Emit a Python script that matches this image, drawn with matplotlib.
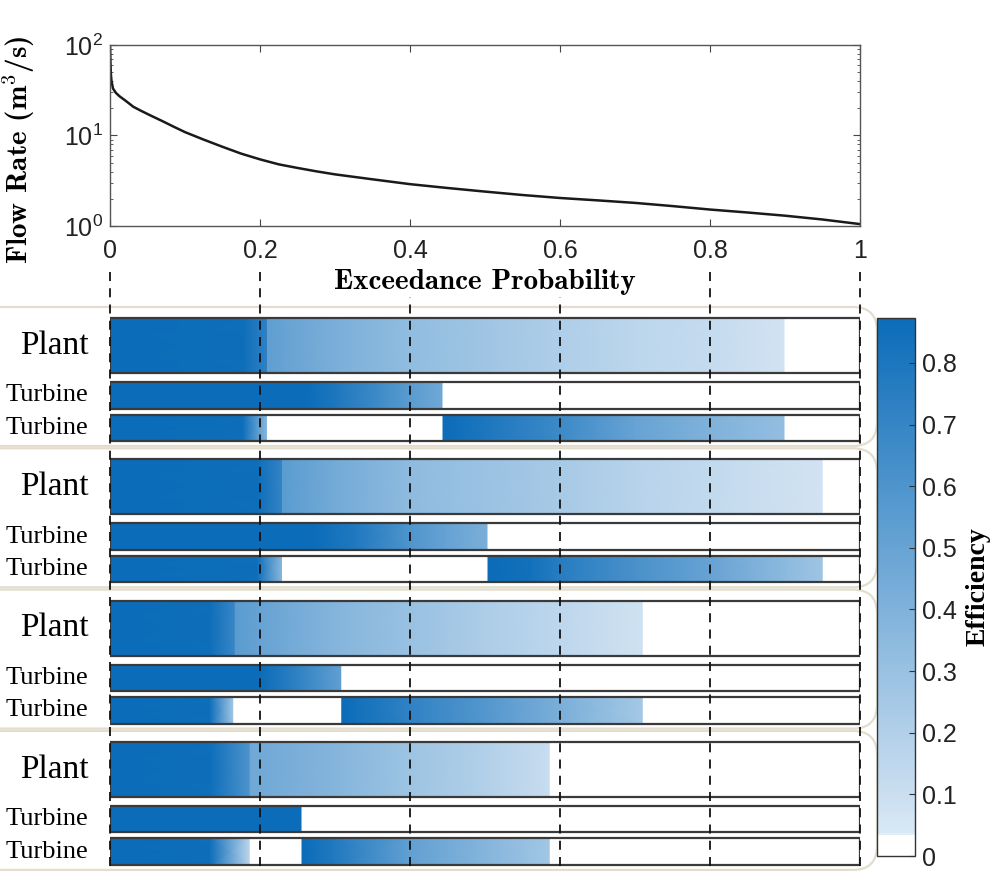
import numpy as np
import matplotlib.pyplot as plt
from matplotlib.colors import LinearSegmentedColormap, Normalize
from matplotlib.patches import Rectangle, FancyBboxPatch
from matplotlib.cm import ScalarMappable

plt.rcParams["font.family"] = ["Liberation Sans", "DejaVu Sans"]
plt.rcParams["mathtext.fontset"] = "cm"
SERIF = "Liberation Serif"
CMB = "cmb10"

# flow duration curve
FLOW_P = [0, 0.0003, 0.0007, 0.0012, 0.002, 0.004, 0.008, 0.013, 0.02, 0.031,
          0.04, 0.053, 0.07, 0.085, 0.1, 0.125, 0.15, 0.175, 0.2, 0.225, 0.25,
          0.275, 0.3, 0.35, 0.4, 0.45, 0.5, 0.55, 0.6, 0.65, 0.7, 0.75, 0.8,
          0.85, 0.9, 0.95, 0.98, 1.0]
FLOW_Q = [100, 80, 60, 47, 40, 33, 29.5, 27, 24.5, 20.8,
          19, 16.8, 14.4, 12.5, 10.9, 9.0, 7.5, 6.3, 5.45, 4.8, 4.38,
          4.02, 3.72, 3.28, 2.9, 2.63, 2.4, 2.2, 2.04, 1.92, 1.8, 1.66, 1.52,
          1.41, 1.3, 1.18, 1.1, 1.05]

XTICKS = [0, 0.2, 0.4, 0.6, 0.8, 1.0]
XTICK_LABELS = ["0", "0.2", "0.4", "0.6", "0.8", "1"]
CB_TICKS = [0, 0.1, 0.2, 0.3, 0.4, 0.5, 0.6, 0.7, 0.8]
CB_LABELS = ["0", "0.1", "0.2", "0.3", "0.4", "0.5", "0.6", "0.7", "0.8"]
EFF_MAX = 0.873

# efficiency along exceedance probability (x, eff) per bar; repeated x = jump
G1_PLANT_X = [0, 0.177, 0.21, 0.21, 0.3, 0.4, 0.5, 0.6, 0.7, 0.8, 0.9, 0.9, 1.0]
G1_PLANT_E = [0.87, 0.86, 0.72, 0.53, 0.42, 0.33, 0.27, 0.21, 0.16, 0.12, 0.07, 0, 0]
G1_T1_X = [0, 0.26, 0.3, 0.35, 0.4, 0.444, 0.444, 1.0]
G1_T1_E = [0.87, 0.87, 0.80, 0.68, 0.55, 0.46, 0, 0]
G1_T2_X = [0, 0.177, 0.21, 0.21, 0.444, 0.444, 0.5, 0.6, 0.7, 0.8, 0.9, 0.9, 1.0]
G1_T2_E = [0.87, 0.86, 0.35, 0, 0, 0.87, 0.80, 0.67, 0.50, 0.40, 0.32, 0, 0]

G2_PLANT_X = [0, 0.196, 0.23, 0.23, 0.3, 0.4, 0.5, 0.6, 0.7, 0.8, 0.9, 0.951, 0.951, 1.0]
G2_PLANT_E = [0.87, 0.86, 0.70, 0.55, 0.45, 0.34, 0.29, 0.24, 0.18, 0.13, 0.09, 0.07, 0, 0]
G2_T1_X = [0, 0.27, 0.33, 0.4, 0.45, 0.504, 0.504, 1.0]
G2_T1_E = [0.87, 0.87, 0.78, 0.60, 0.50, 0.42, 0, 0]
G2_T2_X = [0, 0.196, 0.23, 0.23, 0.504, 0.504, 0.56, 0.6, 0.7, 0.8, 0.9, 0.951, 0.951, 1.0]
G2_T2_E = [0.87, 0.86, 0.35, 0, 0, 0.87, 0.84, 0.76, 0.62, 0.50, 0.35, 0.27, 0, 0]

G3_PLANT_X = [0, 0.133, 0.167, 0.167, 0.2, 0.3, 0.4, 0.5, 0.6, 0.711, 0.711, 1.0]
G3_PLANT_E = [0.87, 0.86, 0.68, 0.55, 0.50, 0.38, 0.30, 0.22, 0.15, 0.08, 0, 0]
G3_T1_X = [0, 0.2, 0.25, 0.309, 0.309, 1.0]
G3_T1_E = [0.87, 0.87, 0.72, 0.52, 0, 0]
G3_T2_X = [0, 0.133, 0.165, 0.165, 0.309, 0.309, 0.4, 0.5, 0.6, 0.711, 0.711, 1.0]
G3_T2_E = [0.87, 0.86, 0.25, 0, 0, 0.87, 0.72, 0.58, 0.42, 0.25, 0, 0]

G4_PLANT_X = [0, 0.133, 0.187, 0.187, 0.3, 0.4, 0.5, 0.587, 0.587, 1.0]
G4_PLANT_E = [0.87, 0.86, 0.60, 0.47, 0.38, 0.28, 0.20, 0.11, 0, 0]
G4_T1_X = [0, 0.256, 0.256, 1.0]
G4_T1_E = [0.87, 0.87, 0, 0]
G4_T2_X = [0, 0.133, 0.187, 0.187, 0.256, 0.256, 0.3, 0.4, 0.5, 0.587, 0.587, 1.0]
G4_T2_E = [0.87, 0.86, 0.15, 0, 0, 0.87, 0.78, 0.52, 0.38, 0.26, 0, 0]

GROUPS = [
    [(G1_PLANT_X, G1_PLANT_E), (G1_T1_X, G1_T1_E), (G1_T2_X, G1_T2_E)],
    [(G2_PLANT_X, G2_PLANT_E), (G2_T1_X, G2_T1_E), (G2_T2_X, G2_T2_E)],
    [(G3_PLANT_X, G3_PLANT_E), (G3_T1_X, G3_T1_E), (G3_T2_X, G3_T2_E)],
    [(G4_PLANT_X, G4_PLANT_E), (G4_T1_X, G4_T1_E), (G4_T2_X, G4_T2_E)],
]
ROW_NAMES = ["Plant", "Turbine", "Turbine"]

# layout, in figure pixels
W, H = 994, 873
GROUP_Y0 = 318
GROUP_STEP = 141.3
ROW_OFFSET = [0, 64, 96.5]
ROW_HEIGHT = [55, 26.5, 26.5]

cmap = LinearSegmentedColormap.from_list(
    "eff", [(0, "#ffffff"), (0.035, "#ffffff"), (0.04, "#dae8f5"), (1, "#0b6cb9")])
norm = Normalize(0, EFF_MAX)


def px_box(x0, y0, x1, y1):
    return [x0 / W, 1 - y1 / H, (x1 - x0) / W, (y1 - y0) / H]


fig = plt.figure(figsize=(W / 100, H / 100), dpi=100)

# ---------------------------------------------------------------------------
# top: flow duration curve
# ---------------------------------------------------------------------------
ax = fig.add_axes(px_box(110, 45, 860, 226), zorder=3)
ax.semilogy(FLOW_P, FLOW_Q, color="#1a1a1a", lw=1.8)
ax.set_xlim(0, 1)
ax.set_ylim(1, 100)
ax.set_xticks(XTICKS)
ax.set_xticklabels(XTICK_LABELS)
ax.tick_params(which="both", direction="in", top=True, right=True,
               labelsize=18, pad=5, color="#444444", labelcolor="#222222")
ax.tick_params(axis="x", pad=9)
ax.tick_params(which="major", length=5)
ax.tick_params(which="minor", length=2.5)
for s in ax.spines.values():
    s.set_color("#555555")
    s.set_linewidth(1.0)
ax.set_xlabel("Exceedance Probability", fontfamily=CMB, fontsize=21, labelpad=5,
              bbox=dict(facecolor="white", edgecolor="none", pad=1))
ax.set_ylabel("Flow Rate (m$^3$/s)", fontfamily=CMB, fontsize=21)
ax.yaxis.set_label_coords(-0.098, 0.42)

# ---------------------------------------------------------------------------
# rounded group frames (pixel coords overlay)
# ---------------------------------------------------------------------------
bg = fig.add_axes([0, 0, 1, 1], zorder=0)
bg.set_xlim(0, W)
bg.set_ylim(H, 0)
bg.axis("off")
for g in range(len(GROUPS)):
    top = GROUP_Y0 + g * GROUP_STEP - 11
    bg.add_patch(FancyBboxPatch((-30, top), 907, 139,
                                boxstyle="round,pad=0,rounding_size=24",
                                fill=False, edgecolor="#e2ddcc", lw=1.6))

# ---------------------------------------------------------------------------
# efficiency bars
# ---------------------------------------------------------------------------
axb = fig.add_axes(px_box(110, 245, 860, 873), zorder=1)
axb.set_xlim(0, 1)
axb.set_ylim(873, 245)
axb.axis("off")

for g, bars in enumerate(GROUPS):
    for r, (xs, es) in enumerate(bars):
        y0 = GROUP_Y0 + g * GROUP_STEP + ROW_OFFSET[r]
        h = ROW_HEIGHT[r]
        xs = np.asarray(xs, dtype=float)
        es = np.asarray(es, dtype=float)
        X = np.vstack([xs, xs])
        Y = np.vstack([np.full_like(xs, y0), np.full_like(xs, y0 + h)])
        C = np.vstack([es, es])
        axb.pcolormesh(X, Y, C, cmap=cmap, norm=norm, shading="gouraud", zorder=1)
        axb.add_patch(Rectangle((0, y0), 1, h, fill=False, edgecolor="#3a3a3a",
                                lw=1.6, zorder=3))
        axb.text(-0.029, y0 + h / 2, ROW_NAMES[r], ha="right", va="center",
                 fontfamily=SERIF, fontsize=24 if r == 0 else 19, clip_on=False)

for xv in XTICKS:
    axb.plot([xv, xv], [272, 873], color="#111111", lw=1.3,
             dashes=(5, 4), zorder=4, clip_on=False)

# ---------------------------------------------------------------------------
# colorbar
# ---------------------------------------------------------------------------
cax = fig.add_axes(px_box(877, 318, 915, 856))
sm = ScalarMappable(norm=norm, cmap=cmap)
cb = fig.colorbar(sm, cax=cax)
cb.set_ticks(CB_TICKS)
cb.set_ticklabels(CB_LABELS)
cax.tick_params(direction="in", length=4, labelsize=18, color="#333333",
                labelcolor="#222222", pad=5)
cb.outline.set_edgecolor("#333333")
cb.outline.set_linewidth(1.0)
cb.set_label("Efficiency", fontfamily=SERIF, fontweight="bold", fontsize=20,
             labelpad=6)

fig.savefig("out.png", dpi=100)
